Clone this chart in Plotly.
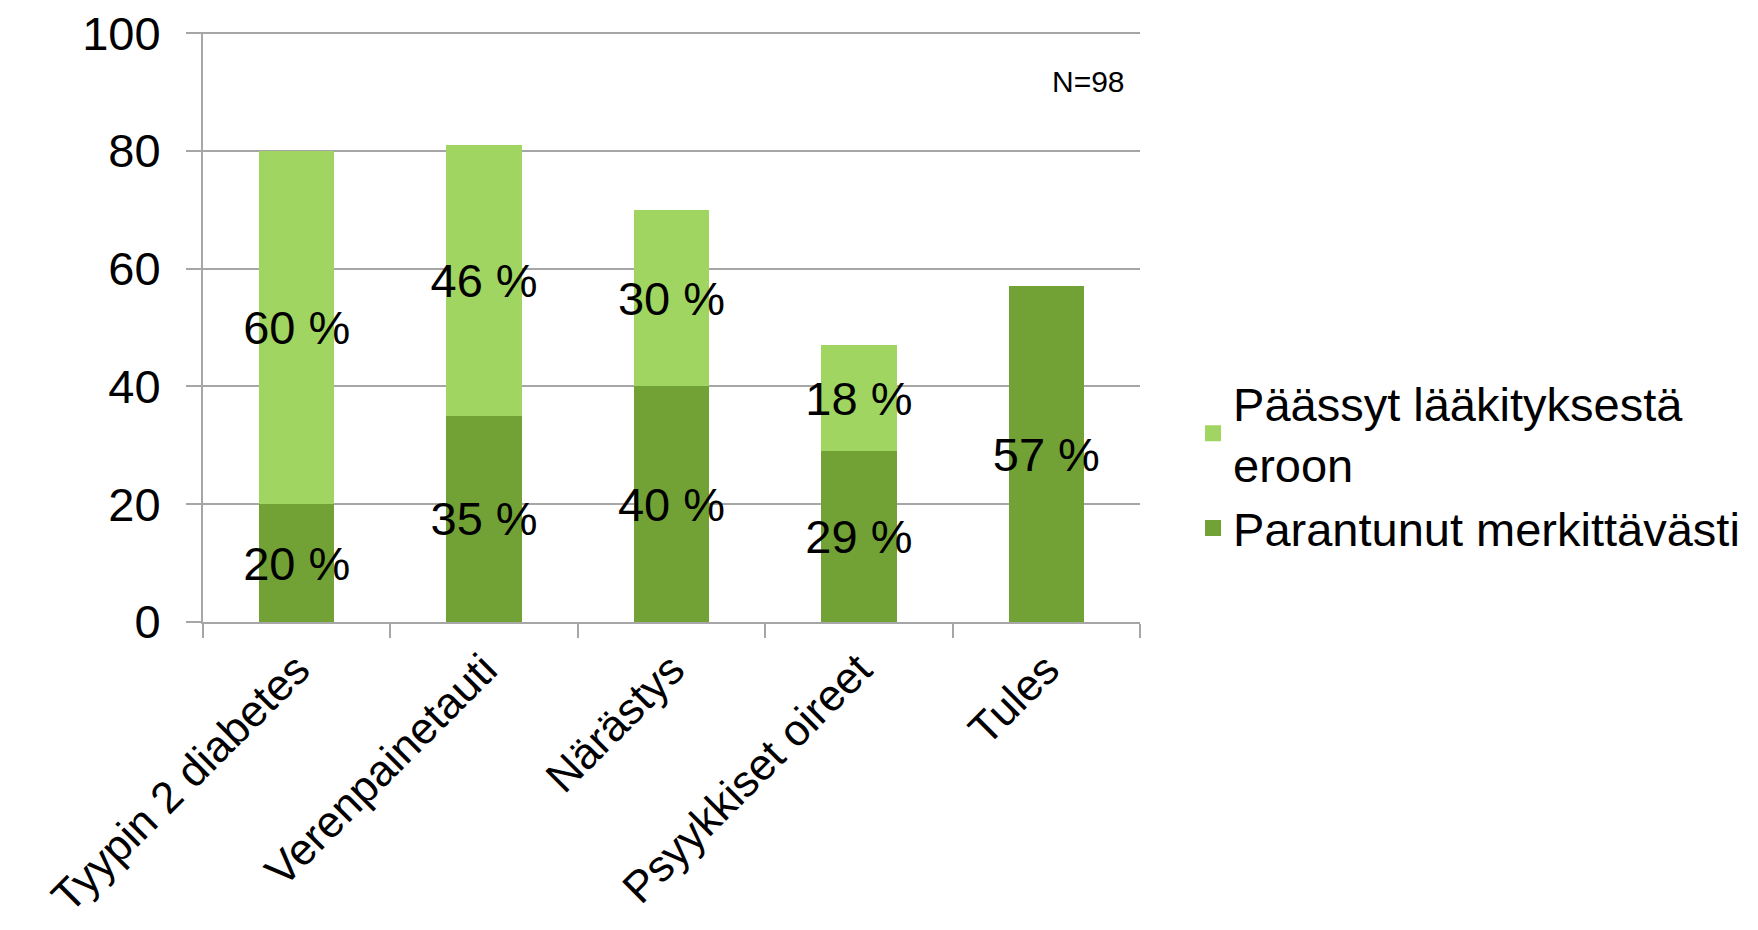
import plotly.graph_objects as go

categories = ["Tyypin 2 diabetes", "Verenpainetauti", "Närästys", "Psyykkiset oireet", "Tules"]
parantunut = [20, 35, 40, 29, 57]
paassyt = [60, 46, 30, 18, None]
y_ticks = [0, 20, 40, 60, 80, 100]

name_dark = "Parantunut merkittävästi"
name_light = "Päässyt lääkityksestä<br>eroon"

dark_green = "#72A235"
light_green = "#A0D561"
grid = "#A6A6A6"
FONT = "Arial, Liberation Sans, sans-serif"
BIG = 47

def labels(vals):
    return [f"{v} %" if v is not None else "" for v in vals]

fig = go.Figure()
fig.add_trace(go.Bar(
    x=categories, y=parantunut, name=name_dark, showlegend=False,
    marker=dict(color=dark_green, line=dict(width=0)),
    text=labels(parantunut), textposition="inside", insidetextanchor="middle",
    textangle=0, constraintext="none",
    textfont=dict(family=FONT, size=BIG, color="black"),
    cliponaxis=False,
))
fig.add_trace(go.Bar(
    x=categories, y=paassyt, name=name_light, showlegend=False,
    marker=dict(color=light_green, line=dict(width=0)),
    text=labels(paassyt), textposition="inside", insidetextanchor="middle",
    textangle=0, constraintext="none",
    textfont=dict(family=FONT, size=BIG, color="black"),
    cliponaxis=False,
))
# legend entries (square swatches)
fig.add_trace(go.Scatter(
    x=[None], y=[None], mode="markers", name=name_dark,
    marker=dict(symbol="square", size=16, color=dark_green),
))
fig.add_trace(go.Scatter(
    x=[None], y=[None], mode="markers", name=name_light,
    marker=dict(symbol="square", size=16, color=light_green),
))

fig.add_annotation(
    text="N=98", x=(1080 - 195) / 937, y=(613.5 - 73) / 589.5, xref="paper", yref="paper",
    showarrow=False, font=dict(family=FONT, size=30, color="black"),
    xanchor="center", yanchor="middle",
)

fig.update_layout(
    width=1758, height=930,
    barmode="stack", bargap=0.598,
    paper_bgcolor="white", plot_bgcolor="white",
    margin=dict(l=195, r=626, t=24, b=316, autoexpand=False),
    font=dict(family=FONT, size=BIG, color="black"),
    showlegend=True,
    legend=dict(
        traceorder="reversed", x=1.0566, xanchor="left", y=0.265, yanchor="middle",
        font=dict(family=FONT, size=BIG, color="black"),
        bgcolor="rgba(0,0,0,0)", tracegroupgap=8,
    ),
    xaxis=dict(
        showline=True, linecolor=grid, linewidth=2, automargin=False,
        ticks="outside", tickson="boundaries", ticklen=14, tickcolor=grid, tickwidth=2,
        tickangle=-45, tickfont=dict(family=FONT, size=44, color="black"),
        showgrid=False, ticklabelstandoff=2,
    ),
    yaxis=dict(
        range=[0, 100.2], tickvals=y_ticks, ticktext=[str(v) for v in y_ticks],
        showline=True, linecolor=grid, linewidth=2, automargin=False,
        ticks="outside", ticklen=15, tickcolor=grid, tickwidth=2,
        showgrid=True, gridcolor=grid, gridwidth=2,
        zeroline=False, ticklabeloverflow="allow",
        tickfont=dict(family=FONT, size=BIG, color="black"),
        ticklabelstandoff=16,
    ),
)

fig.write_html("out.html")
